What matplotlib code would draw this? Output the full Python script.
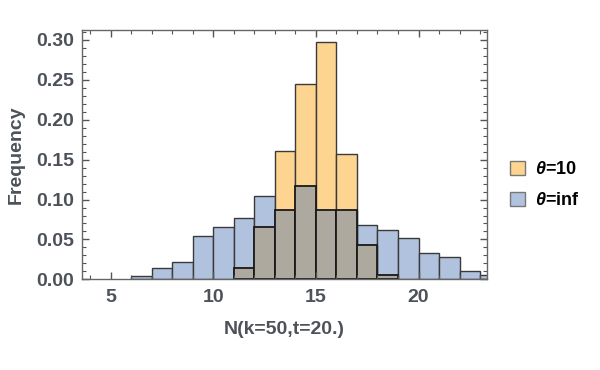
import numpy as np
import matplotlib
matplotlib.use("Agg")
import matplotlib.pyplot as plt
from matplotlib.ticker import MultipleLocator, FormatStrFormatter
from matplotlib.patches import Patch

# bin left edges (width 1) and frequencies
blue_bins = list(range(6, 24))
blue_freq = [0.004, 0.014, 0.022, 0.054, 0.065, 0.077, 0.104, 0.087, 0.117,
             0.087, 0.087, 0.0675, 0.062, 0.052, 0.033, 0.0275, 0.010, 0.006]
orange_bins = list(range(11, 19))
orange_freq = [0.014, 0.065, 0.161, 0.245, 0.297, 0.157, 0.0425, 0.0054]

labels = ["$\\theta$=10", "$\\theta$=inf"]
xlabel = "N(k=50,t=20.)"
ylabel = "Frequency"

c_orange = "#fdd590"
c_blue = "#b0c2de"
c_both = "#ada99f"
edge = "#3a3a3a"
txt = "#4d5259"

plt.rcParams['font.family'] = ['Liberation Sans', 'DejaVu Sans']
plt.rcParams['mathtext.fontset'] = 'custom'
plt.rcParams['mathtext.it'] = 'Liberation Sans:italic:bold'
plt.rcParams['mathtext.rm'] = 'Liberation Sans:bold'

fig = plt.figure(figsize=(6, 3.7), dpi=100)
ax = fig.add_axes([0.137, 0.245, 0.675, 0.674])

ax.bar(blue_bins, blue_freq, width=1, align='edge', color=c_blue, edgecolor=edge, linewidth=1.0)
ax.bar(orange_bins, orange_freq, width=1, align='edge', color=c_orange, edgecolor=edge, linewidth=1.0)

# overlap region, drawn grey like the blended bars
bmap = dict(zip(blue_bins, blue_freq))
both = [min(f, bmap.get(b, 0)) for b, f in zip(orange_bins, orange_freq)]
ax.bar(orange_bins, both, width=1, align='edge', color=c_both, edgecolor="#1a1a1a", linewidth=1.3)

ax.set_xlim(3.6, 23.35)
ax.set_ylim(0, 0.3125)
ax.xaxis.set_major_locator(MultipleLocator(5))
ax.xaxis.set_minor_locator(MultipleLocator(1))
ax.yaxis.set_major_locator(MultipleLocator(0.05))
ax.yaxis.set_minor_locator(MultipleLocator(0.01))
ax.yaxis.set_major_formatter(FormatStrFormatter('%.2f'))

ax.tick_params(which='both', direction='in', top=True, right=True, color="#555555",
               labelsize=14, labelcolor=txt)
ax.tick_params(which='major', length=5, width=1)
ax.tick_params(which='minor', length=3, width=0.8)
ax.tick_params(axis='y', which='major', pad=6)
ax.tick_params(axis='x', which='major', pad=7)
for lab in ax.get_xticklabels() + ax.get_yticklabels():
    lab.set_fontweight('bold')
for s in ax.spines.values():
    s.set_color("#666666")
    s.set_linewidth(1.0)

ax.set_xlabel(xlabel, fontsize=14, fontweight='bold', color=txt, labelpad=11)
ax.set_ylabel(ylabel, fontsize=14, fontweight='bold', color=txt, labelpad=8)

handles = [Patch(facecolor=c_orange, edgecolor="#777777"),
           Patch(facecolor=c_blue, edgecolor="#777777")]
leg = fig.legend(handles, labels, loc='center left', bbox_to_anchor=(0.823, 0.5),
                 frameon=False, handlelength=0.85, handleheight=0.85,
                 handletextpad=0.55, labelspacing=0.75,
                 prop={'weight': 'bold', 'size': 13})

fig.savefig("out.png", dpi=100)
